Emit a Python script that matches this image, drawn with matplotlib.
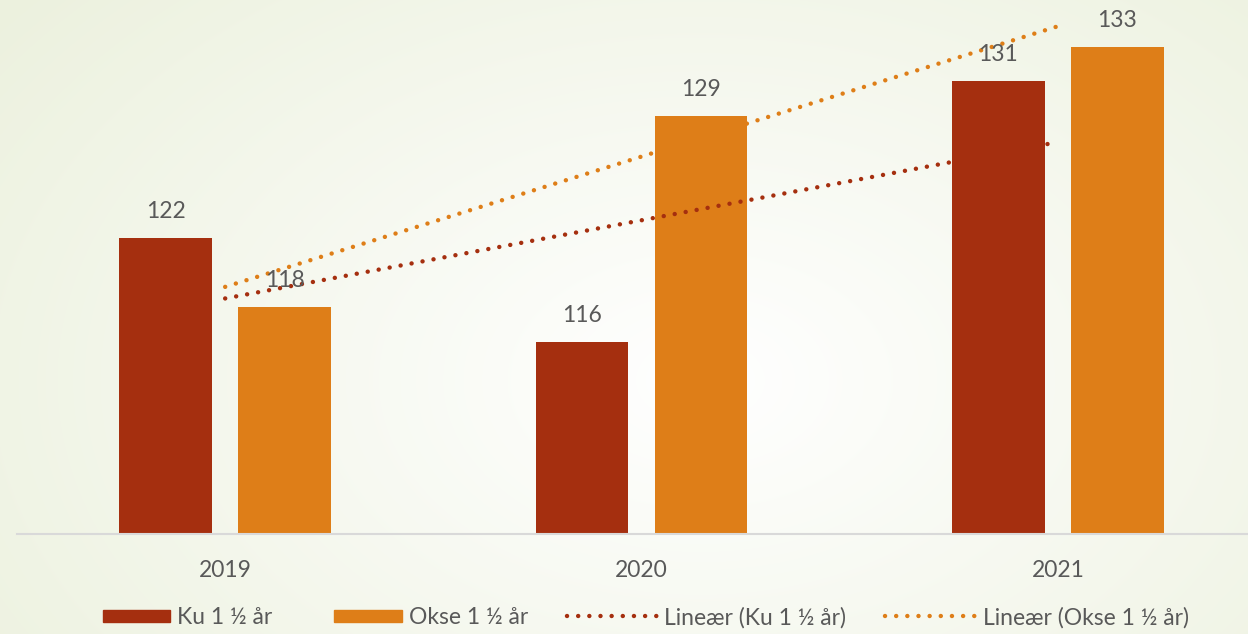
import numpy as np
import matplotlib.pyplot as plt
import matplotlib.patches as mpatches
from matplotlib.legend_handler import HandlerPatch

# Data
years = ['2019', '2020', '2021']
ku = [122, 116, 131]
okse = [118, 129, 133]
labels = ['Ku 1 ½ år', 'Okse 1 ½ år', 'Lineær (Ku 1 ½ år)', 'Lineær (Okse 1 ½ år)']

c_ku = '#A52F0F'
c_okse = '#DE7E18'
c_text = '#595959'
fs = 16.5

plt.rcParams['font.family'] = ['Lato', 'DejaVu Sans']

fig = plt.figure(figsize=(12.48, 6.34), dpi=100)

# background: soft radial gradient
bg = fig.add_axes([0, 0, 1, 1], zorder=-1)
yy, xx = np.mgrid[0:634, 0:1248]
r = np.sqrt(((xx - 700) / 900.0) ** 2 + ((yy - 380) / 600.0) ** 2)
r = np.clip(r, 0, 1)
inner = np.array([1.0, 1.0, 1.0])
outer = np.array([0xEC, 0xF1, 0xDE]) / 255.0
img = inner[None, None, :] * (1 - r[..., None]) + outer[None, None, :] * r[..., None]
bg.imshow(img, aspect='auto', extent=[0, 1, 0, 1])
bg.axis('off')

ax = fig.add_axes([17 / 1248, 100 / 634, 1249 / 1248, 534 / 634])
ax.patch.set_alpha(0)

x = np.arange(len(years))
w = 0.223
off = 0.143
b1 = ax.bar(x - off, ku, w, color=c_ku, zorder=2)
b2 = ax.bar(x + off, okse, w, color=c_okse, zorder=2)

# linear trend lines (dotted)
dots = (0, (0.01, 2.5))
k1 = np.polyfit(x, ku, 1)
k2 = np.polyfit(x, okse, 1)
l1, = ax.plot(x, np.polyval(k1, x), color=c_ku, lw=3.2, linestyle=dots,
              dash_capstyle='round', zorder=3)
l2, = ax.plot(x, np.polyval(k2, x), color=c_okse, lw=3.2, linestyle=dots,
              dash_capstyle='round', zorder=3)

for bars, vals in [(b1, ku), (b2, okse)]:
    for rect, v in zip(bars, vals):
        ax.annotate(str(v), (rect.get_x() + rect.get_width() / 2, v),
                    xytext=(0, 11.5), textcoords='offset points', ha='center',
                    va='bottom', fontsize=fs, color=c_text, zorder=4)

ax.set_xlim(-0.5, 2.5)
ax.set_ylim(104.94, 135.68)
ax.set_yticks([])
ax.set_xticks(x)
ax.set_xticklabels(years, fontsize=fs, color=c_text)
ax.tick_params(axis='x', length=0, pad=19)
for s in ['top', 'right', 'left']:
    ax.spines[s].set_visible(False)
ax.spines['bottom'].set_color('#D9D9D9')
ax.spines['bottom'].set_linewidth(1.5)


# legend: rectangles narrower than the dotted line keys, right aligned
def rect_key(legend, orig_handle, xdescent, ydescent, width, height, fontsize):
    rw = width * 0.74
    rh = 12 * 72 / 100.0
    return mpatches.Rectangle((-xdescent + width - rw, -ydescent + (height - rh) / 2),
                              rw, rh)


p1 = mpatches.Patch(color=c_ku)
p2 = mpatches.Patch(color=c_okse)
fig.legend([p1, p2, l1, l2], labels, loc='center',
           bbox_to_anchor=(0.508, 16.5 / 634), ncol=4, frameon=False,
           fontsize=fs, labelcolor=c_text, handlelength=3.97,
           columnspacing=1.69, handletextpad=0.3,
           handler_map={mpatches.Patch: HandlerPatch(patch_func=rect_key)})

fig.savefig('out.png', dpi=100)
